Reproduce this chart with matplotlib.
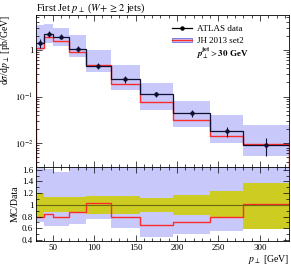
import numpy as np
import matplotlib
matplotlib.use('Agg')
import matplotlib.pyplot as plt
from matplotlib.ticker import MultipleLocator, LogLocator, FixedLocator, NullFormatter
from matplotlib.lines import Line2D
from matplotlib.patches import Patch

plt.rcParams['font.family'] = ['Liberation Serif', 'DejaVu Serif']
plt.rcParams['mathtext.fontset'] = 'stix'

# bin edges in GeV
edges = [30, 40, 50, 70, 90, 120, 155, 195, 240, 280, 335]
# ATLAS data, dsigma/dpT [pb/GeV]
data = [1.39, 2.2, 1.93, 1.05, 0.45, 0.234, 0.113, 0.044, 0.018, 0.0093]
# MC / data ratio (JH 2013 set2)
ratio = [0.80, 0.84, 0.80, 0.87, 1.03, 0.79, 0.66, 0.70, 0.79, 1.01]
# MC uncertainty band, relative to data
mc_lo = [0.70, 0.64, 0.64, 0.67, 0.76, 0.60, 0.45, 0.50, 0.55, 0.58]
mc_hi = [2.5, 1.62, 1.56, 2.0, 2.2, 2.0, 1.72, 1.78, 2.2, 2.6]
# data uncertainty band, relative
dat_lo = [0.80, 0.87, 0.87, 0.87, 0.85, 0.85, 0.87, 0.83, 0.77, 0.58]
dat_hi = [1.20, 1.13, 1.13, 1.13, 1.16, 1.16, 1.12, 1.17, 1.23, 1.38]

edges = np.array(edges, float)
data = np.array(data)
ratio = np.array(ratio)
mc = data * ratio
centers = 0.5 * (edges[1:] + edges[:-1])

blue = '#c8c8fa'
red = '#ff2a2a'
green = '#cccc22'

fig = plt.figure(figsize=(2.91, 2.67), dpi=100)
ax = fig.add_axes([0.124, 0.375, 0.869, 0.569])
rx = fig.add_axes([0.124, 0.097, 0.869, 0.278], sharex=ax)

# main panel
ax.stairs(data * np.array(mc_hi), edges, baseline=data * np.array(mc_lo),
          fill=True, color=blue, lw=0)
ax.stairs(mc, edges, color=red, lw=1.0)
ax.stairs(data, edges, color='#101030', lw=0.9, baseline=None)
ax.errorbar(centers, data,
            yerr=[data * (1 - np.array(dat_lo)), data * (np.array(dat_hi) - 1)],
            fmt='o', ms=2.2, color='#101030', elinewidth=0.8, capsize=0)
ax.set_yscale('log')
ax.set_ylim(0.0031, 5.6)
ax.set_xlim(30, 335)

# ratio panel
rx.stairs(np.array(mc_hi), edges, baseline=np.array(mc_lo),
          fill=True, color=blue, lw=0)
rx.stairs(np.array(dat_hi), edges, baseline=np.array(dat_lo),
          fill=True, color=green, lw=0)
rx.axhline(1, color='#6a6a10', lw=0.8)
rx.stairs(ratio, edges, color=red, lw=1.0, baseline=None)
rx.set_ylim(0.38, 1.65)

for a in (ax, rx):
    a.tick_params(which='both', direction='in', top=True, right=True,
                  labelsize=6.5, width=0.5, pad=2)
    a.tick_params(which='major', length=4)
    a.tick_params(which='minor', length=2)
    a.xaxis.set_major_locator(MultipleLocator(50))
    a.xaxis.set_minor_locator(MultipleLocator(10))
    for s in a.spines.values():
        s.set_linewidth(0.6)

ax.tick_params(labelbottom=False)
ax.yaxis.set_major_locator(FixedLocator([0.01, 0.1, 1]))
ax.set_yticklabels(['$10^{-2}$', '$10^{-1}$', '1'])
ax.yaxis.set_minor_locator(LogLocator(base=10, subs=np.arange(2, 10)))
ax.yaxis.set_minor_formatter(NullFormatter())

rx.yaxis.set_major_locator(FixedLocator([0.4, 0.6, 0.8, 1.0, 1.2, 1.4, 1.6]))
rx.set_yticklabels(['0.4', '0.6', '0.8', '1', '1.2', '1.4', '1.6'])
rx.yaxis.set_minor_locator(MultipleLocator(0.1))

ax.set_ylabel(r'd$\sigma$/d$p_\perp$ [pb/GeV]', fontsize=7, loc='top', labelpad=2)
rx.set_ylabel('MC/Data', fontsize=7, labelpad=2)
rx.set_xlabel(r'$p_\perp$ [GeV]', fontsize=7, loc='right', labelpad=1)
ax.set_title(r'First Jet $p_\perp$ ($W\!+\geq 2$ jets)', fontsize=7.5,
             loc='left', pad=3)

handles = [
    Line2D([], [], color='black', marker='o', ms=2.2, lw=0.9),
    (Patch(facecolor=blue, edgecolor='#7070e0', lw=0.6), Line2D([], [], color=red, lw=1.0)),
]
leg = ax.legend(handles, ['ATLAS data', 'JH 2013 set2'], loc='upper left',
                bbox_to_anchor=(0.53, 0.945), frameon=False, fontsize=6.5,
                handlelength=2.2, handleheight=0.4, handletextpad=0.6,
                labelspacing=0.45, borderaxespad=0, borderpad=0.2)
ax.text(0.632, 0.748, r'$\boldsymbol{p}_\perp^{\mathbf{jet}} > \mathbf{30}$ GeV',
        transform=ax.transAxes, fontsize=6.5, fontweight='bold', va='center')

fig.savefig('out.png', dpi=100)
